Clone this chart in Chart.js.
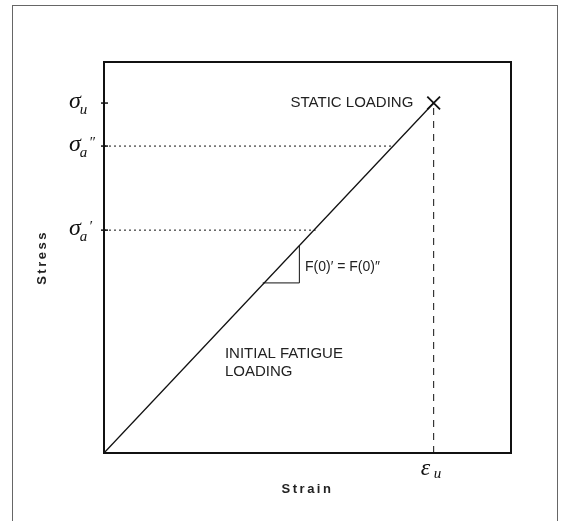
<!DOCTYPE html>
<html lang="en">
<head>
<meta charset="UTF-8">
<title>Stress vs strain</title>
<script src="https://cdn.jsdelivr.net/npm/chart.js@4.4.0/dist/chart.umd.min.js"></script>
<style>
    body { margin: 0; background: #fff; }
    #wrap { position: relative; width: 565px; height: 521px; }
</style>
</head>
<body>

<div id="wrap"><canvas id="chart" width="565" height="521"></canvas></div>

<script>
// values in relative units (0..1 of each axis)
var loadLineX = [0, 0.81];
var loadLineY = [0, 0.895];
var slopeX = [0.39, 0.48, 0.48];
var slopeY = [0.435, 0.435, 0.53];
var dotA2X = [0, 0.71];
var dotA2Y = [0.785, 0.785];
var dotA1X = [0, 0.52];
var dotA1Y = [0.57, 0.57];
var strainUX = [0.81, 0.81];
var strainUY = [0, 0.895];
var failX = [0.81];
var failY = [0.895];

var yTickValues = [0.57, 0.785, 0.895];
var yTickSubs = ['a', 'a', 'u'];
var yTickMarks = ['\u2032', '\u2033', ''];
var xTickValues = [0.81];
var xTickSubs = ['u'];

function pts(xs, ys) {
    return xs.map(function (x, i) { return { x: x, y: ys[i] }; });
}

function lineSet(xs, ys, width, dash) {
    return {
        data: pts(xs, ys),
        showLine: true,
        borderColor: '#111',
        borderWidth: width,
        borderDash: dash || [],
        pointRadius: 0,
        tension: 0
    };
}

var sans = '"Liberation Sans", Arial, sans-serif';
var serif = '"Liberation Serif", "Times New Roman", serif';

var extras = {
    id: 'extras',
    beforeDraw: function (chart) {
        var c = chart.ctx;
        c.save();
        c.fillStyle = '#fff';
        c.fillRect(0, 0, chart.width, chart.height);
        c.strokeStyle = '#666';
        c.lineWidth = 1;
        c.strokeRect(12.5, 5.5, 545, 540);
        c.restore();
    },
    afterDatasetsDraw: function (chart) {
        var c = chart.ctx, a = chart.chartArea;
        var xs = chart.scales.x, ys = chart.scales.y;
        c.save();
        c.strokeStyle = '#111';
        c.lineWidth = 2;
        c.strokeRect(a.left, a.top, a.right - a.left, a.bottom - a.top);

        c.fillStyle = '#111';
        c.textAlign = 'left';
        c.textBaseline = 'alphabetic';

        // stress labels
        yTickValues.forEach(function (v, i) {
            var py = ys.getPixelForValue(v);
            var x0 = a.left - 35;
            c.font = 'italic 24px ' + serif;
            c.fillText('\u03c3', x0, py + 5);
            var w = c.measureText('\u03c3').width;
            c.font = 'italic 15px ' + serif;
            c.fillText(yTickSubs[i], x0 + w - 1, py + 11);
            if (yTickMarks[i]) c.fillText(yTickMarks[i], x0 + w + 8, py + 1);
            c.lineWidth = 1.5;
            c.beginPath();
            c.moveTo(a.left - 3, py);
            c.lineTo(a.left + 4, py);
            c.stroke();
        });

        // strain label
        xTickValues.forEach(function (v, i) {
            var px = xs.getPixelForValue(v);
            c.font = 'italic 24px ' + serif;
            c.fillText('\u03b5', px - 13, a.bottom + 22);
            c.font = 'italic 15px ' + serif;
            c.fillText(xTickSubs[i], px + 0, a.bottom + 25);
        });

        // annotations
        c.font = '15px ' + sans;
        c.fillStyle = '#222';
        c.textBaseline = 'middle';
        c.textAlign = 'right';
        c.fillText('STATIC LOADING', xs.getPixelForValue(0.76), ys.getPixelForValue(0.895));
        c.textAlign = 'left';
        c.font = '14px ' + sans;
        c.fillText('F(0)\u2032 = F(0)\u2033', xs.getPixelForValue(0.494), ys.getPixelForValue(0.476));
        c.font = '15px ' + sans;
        c.fillText('INITIAL FATIGUE', xs.getPixelForValue(0.297), ys.getPixelForValue(0.253));
        c.fillText('LOADING', xs.getPixelForValue(0.297), ys.getPixelForValue(0.207));

        // axis titles
        c.font = 'bold 13px ' + sans;
        c.letterSpacing = '2.5px';
        c.textAlign = 'center';
        c.fillText('Strain', (a.left + a.right) / 2, 489);
        c.translate(42, (a.top + a.bottom) / 2);
        c.rotate(-Math.PI / 2);
        c.fillText('Stress', 0, 0);
        c.restore();
    }
};

var ctx = document.getElementById('chart').getContext('2d');

var chart = new Chart(ctx, {
    type: 'scatter',
    data: {
        datasets: [
            lineSet(loadLineX, loadLineY, 1.3),
            lineSet(slopeX, slopeY, 1),
            lineSet(dotA2X, dotA2Y, 1, [2, 3]),
            lineSet(dotA1X, dotA1Y, 1, [2, 3]),
            lineSet(strainUX, strainUY, 1, [7, 6]),
            {
                data: pts(failX, failY),
                pointStyle: 'crossRot',
                pointRadius: 9,
                borderColor: '#111',
                borderWidth: 1.8
            }
        ]
    },
    options: {
        responsive: false,
        animation: false,
        layout: {
            padding: { left: 104, top: 62, right: 54, bottom: 68 }
        },
        plugins: {
            legend: { display: false },
            tooltip: { enabled: false }
        },
        scales: {
            x: { type: 'linear', min: 0, max: 1, display: false },
            y: { type: 'linear', min: 0, max: 1, display: false }
        }
    },
    plugins: [extras]
});
</script>

</body>
</html>
